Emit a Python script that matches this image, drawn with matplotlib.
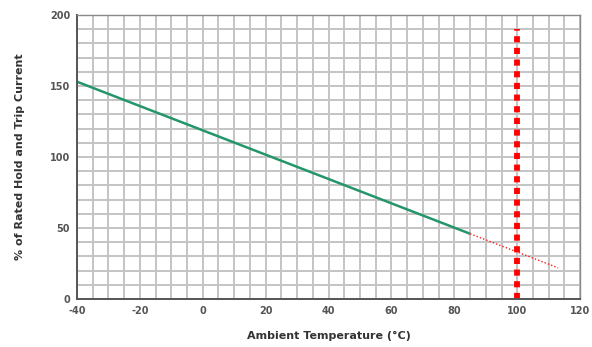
import matplotlib.pyplot as plt

plt.rcParams['axes.unicode_minus'] = False

# derating curve: % of rated hold/trip current vs ambient temperature
temp_rated = [-40, 85]
pct_rated = [153, 46]
temp_extrap = [85, 113]
pct_extrap = [46, 22]
limit_temp = 100
limit_pct = [0, 190]

x_ticks = [-40, -20, 0, 20, 40, 60, 80, 100, 120]
y_ticks = [0, 50, 100, 150, 200]

fig = plt.figure(figsize=(5.92, 3.47), dpi=100)
ax = fig.add_axes([0.130, 0.138, 0.850, 0.819])

ax.set_xlim(-40, 120)
ax.set_ylim(0, 200)

# fine grid every 5 °C / 10 %
ax.set_xticks(range(-40, 121, 5), minor=True)
ax.set_yticks(range(0, 201, 10), minor=True)
ax.grid(which='minor', color='#c4c4c4', linewidth=1.4)
ax.grid(which='major', color='#c4c4c4', linewidth=1.4)
ax.set_axisbelow(True)

ax.set_xticks(x_ticks)
ax.set_yticks(y_ticks)
ax.tick_params(which='both', length=0, labelsize=7, colors='#555555', pad=5)
for lbl in ax.get_xticklabels() + ax.get_yticklabels():
    lbl.set_fontweight('bold')

for s in ax.spines.values():
    s.set_color('#8a8a8a')
    s.set_linewidth(1.0)
ax.spines['left'].set_color('#555555')
ax.spines['bottom'].set_color('#555555')
ax.spines['left'].set_linewidth(1.4)
ax.spines['bottom'].set_linewidth(1.4)

ax.plot(temp_rated, pct_rated, color='#24966a', linewidth=1.8, solid_capstyle='butt')
ax.plot(temp_extrap, pct_extrap, color='#ff1a1a', linewidth=1.0, linestyle=(0, (1, 1.5)))
ax.plot([limit_temp, limit_temp], limit_pct, color='#ff0000', linewidth=4.2,
        linestyle=(0, (1.05, 0.95)), dash_capstyle='butt', clip_on=False)

ax.set_xlabel('Ambient Temperature (°C)', fontsize=8, fontweight='bold', color='#333333', labelpad=11)
ax.set_ylabel('% of Rated Hold and Trip Current', fontsize=8, fontweight='bold', color='#333333', labelpad=18)

fig.savefig('out.png', dpi=100)
